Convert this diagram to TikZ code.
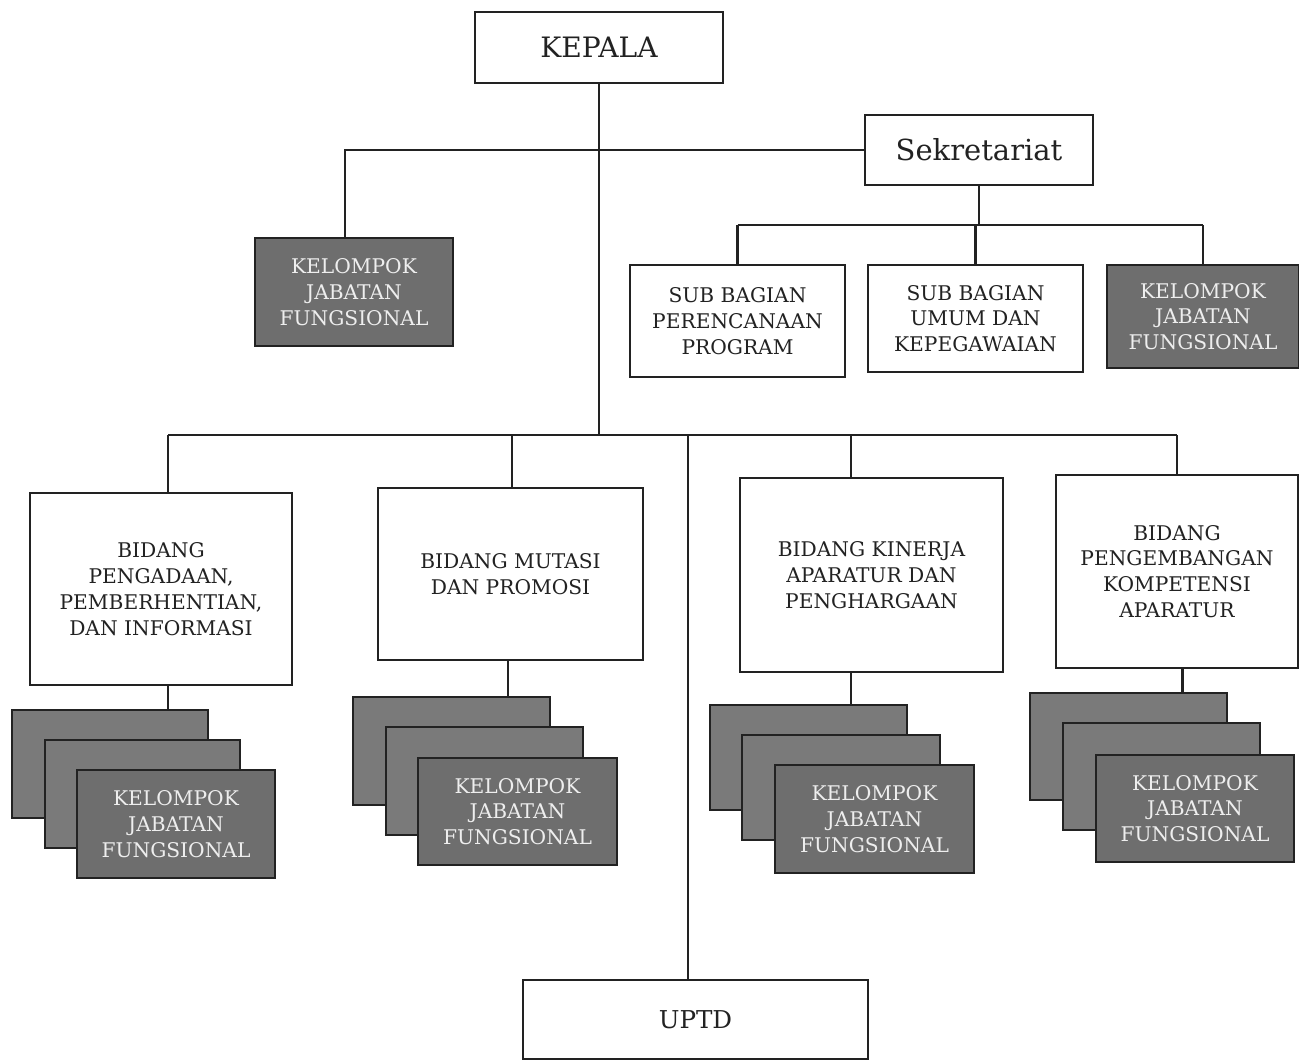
\documentclass[tikz,border=0pt]{standalone}
\usepackage{fontspec}
\setmainfont{DejaVu Serif}
\definecolor{kjf}{HTML}{6E6E6E}
\definecolor{kjfback}{HTML}{7A7A7A}
\definecolor{kjftext}{HTML}{EEEEEE}
\definecolor{ink}{HTML}{222222}
\newcommand\bx[7]{\node[#6, minimum width={(#4-#2)*0.02cm}, minimum height={(#5-#3)*0.02cm}] (#1) at ({(#2+#4)/2},{(#3+#5)/2}) {#7};}
\begin{document}
\begin{tikzpicture}[x=0.02cm,y=-0.02cm,
  box/.style={draw=ink, line width=1.2pt, fill=white, inner sep=1pt, align=center, text=ink},
  kjfbox/.style={draw=ink, line width=1.2pt, fill=kjf, inner sep=1pt, align=center, text=kjftext},
  kjfbk/.style={draw=ink, line width=1.2pt, fill=kjfback, inner sep=1pt},
  small/.style={font=\fontsize{11.5}{14.7}\selectfont},
  link/.style={draw=ink, line width=1.3pt}]
\useasboundingbox (0,0) rectangle (1299,1061);
\fill[white] (0,0) rectangle (1299,1061);
% top
\bx{kepala}{475}{12}{723}{83}{box, font=\fontsize{16}{19}\selectfont}{KEPALA}
\bx{sek}{865}{115}{1093}{185}{box, font=\fontsize{16.5}{19}\selectfont}{Sekretariat}
\bx{kjf0}{255}{238}{453}{346}{kjfbox, small}{KELOMPOK\\JABATAN\\FUNGSIONAL}
\bx{sub1}{630}{265}{845}{377}{box, small}{SUB BAGIAN\\PERENCANAAN\\PROGRAM}
\bx{sub2}{868}{265}{1083}{372}{box, small}{SUB BAGIAN\\UMUM DAN\\KEPEGAWAIAN}
\bx{kjf1}{1107}{265}{1299}{368}{kjfbox, small}{KELOMPOK\\JABATAN\\FUNGSIONAL}
% bidang
\bx{b1}{30}{493}{292}{685}{box, small}{BIDANG\\PENGADAAN,\\PEMBERHENTIAN,\\DAN INFORMASI}
\bx{b2}{378}{488}{643}{660}{box, small}{BIDANG MUTASI\\DAN PROMOSI}
\bx{b3}{740}{478}{1003}{672}{box, small}{BIDANG KINERJA\\APARATUR DAN\\PENGHARGAAN}
\bx{b4}{1056}{475}{1298}{668}{box, small}{BIDANG\\PENGEMBANGAN\\KOMPETENSI\\APARATUR}
% stacks
\bx{s1a}{12}{710}{208}{818}{kjfbk}{}
\bx{s1b}{45}{740}{240}{848}{kjfbk}{}
\bx{s1c}{77}{770}{275}{878}{kjfbox, small}{KELOMPOK\\JABATAN\\FUNGSIONAL}
\bx{s2a}{353}{697}{550}{805}{kjfbk}{}
\bx{s2b}{386}{727}{583}{835}{kjfbk}{}
\bx{s2c}{418}{758}{617}{865}{kjfbox, small}{KELOMPOK\\JABATAN\\FUNGSIONAL}
\bx{s3a}{710}{705}{907}{810}{kjfbk}{}
\bx{s3b}{742}{735}{940}{840}{kjfbk}{}
\bx{s3c}{775}{765}{974}{873}{kjfbox, small}{KELOMPOK\\JABATAN\\FUNGSIONAL}
\bx{s4a}{1030}{693}{1227}{800}{kjfbk}{}
\bx{s4b}{1063}{723}{1260}{830}{kjfbk}{}
\bx{s4c}{1096}{755}{1294}{862}{kjfbox, small}{KELOMPOK\\JABATAN\\FUNGSIONAL}
% uptd
\bx{uptd}{523}{980}{868}{1059}{box, font=\fontsize{14}{17}\selectfont}{UPTD}
% drop points
\coordinate (bus) at (600,435);
\coordinate (sekbus) at (972,225);
\coordinate (d1) at ([xshift=0.14cm]b1.north);
\coordinate (d2) at ([xshift=0.03cm]b2.north);
\coordinate (d3) at ([xshift=-0.41cm]b3.north);
\coordinate (d4) at (b4.north);
\coordinate (du) at ([xshift=-0.15cm]uptd.north);
\coordinate (dk) at ([xshift=-0.18cm]kjf0.north);
\coordinate (e1) at ([xshift=0.14cm]b1.south);
\coordinate (e2) at ([xshift=-0.05cm]b2.south);
\coordinate (e3) at ([xshift=-0.41cm]b3.south);
\coordinate (e4) at ([xshift=0.11cm]b4.south);
% connectors
\draw[link] (kepala.south) -- (kepala.south |- bus);
\draw[link] (d1 |- bus) -- (d4 |- bus);
\draw[link] (d1 |- bus) -- (d1);
\draw[link] (d2 |- bus) -- (d2);
\draw[link] (d3 |- bus) -- (d3);
\draw[link] (d4 |- bus) -- (d4);
\draw[link] (du |- bus) -- (du);
\draw[link] (sek.west) -- (dk |- sek.west) -- (dk);
\draw[link] (sek.south) -- (sek.south |- sekbus);
\draw[link] (sub1.north |- sekbus) -- (kjf1.north |- sekbus);
\draw[link] (sub1.north |- sekbus) -- (sub1.north);
\draw[link] (sub2.north |- sekbus) -- (sub2.north);
\draw[link] (kjf1.north |- sekbus) -- (kjf1.north);
\draw[link] (e1) -- (e1 |- s1a.north);
\draw[link] (e2) -- (e2 |- s2a.north);
\draw[link] (e3) -- (e3 |- s3a.north);
\draw[link] (e4) -- (e4 |- s4a.north);
\end{tikzpicture}
\end{document}
